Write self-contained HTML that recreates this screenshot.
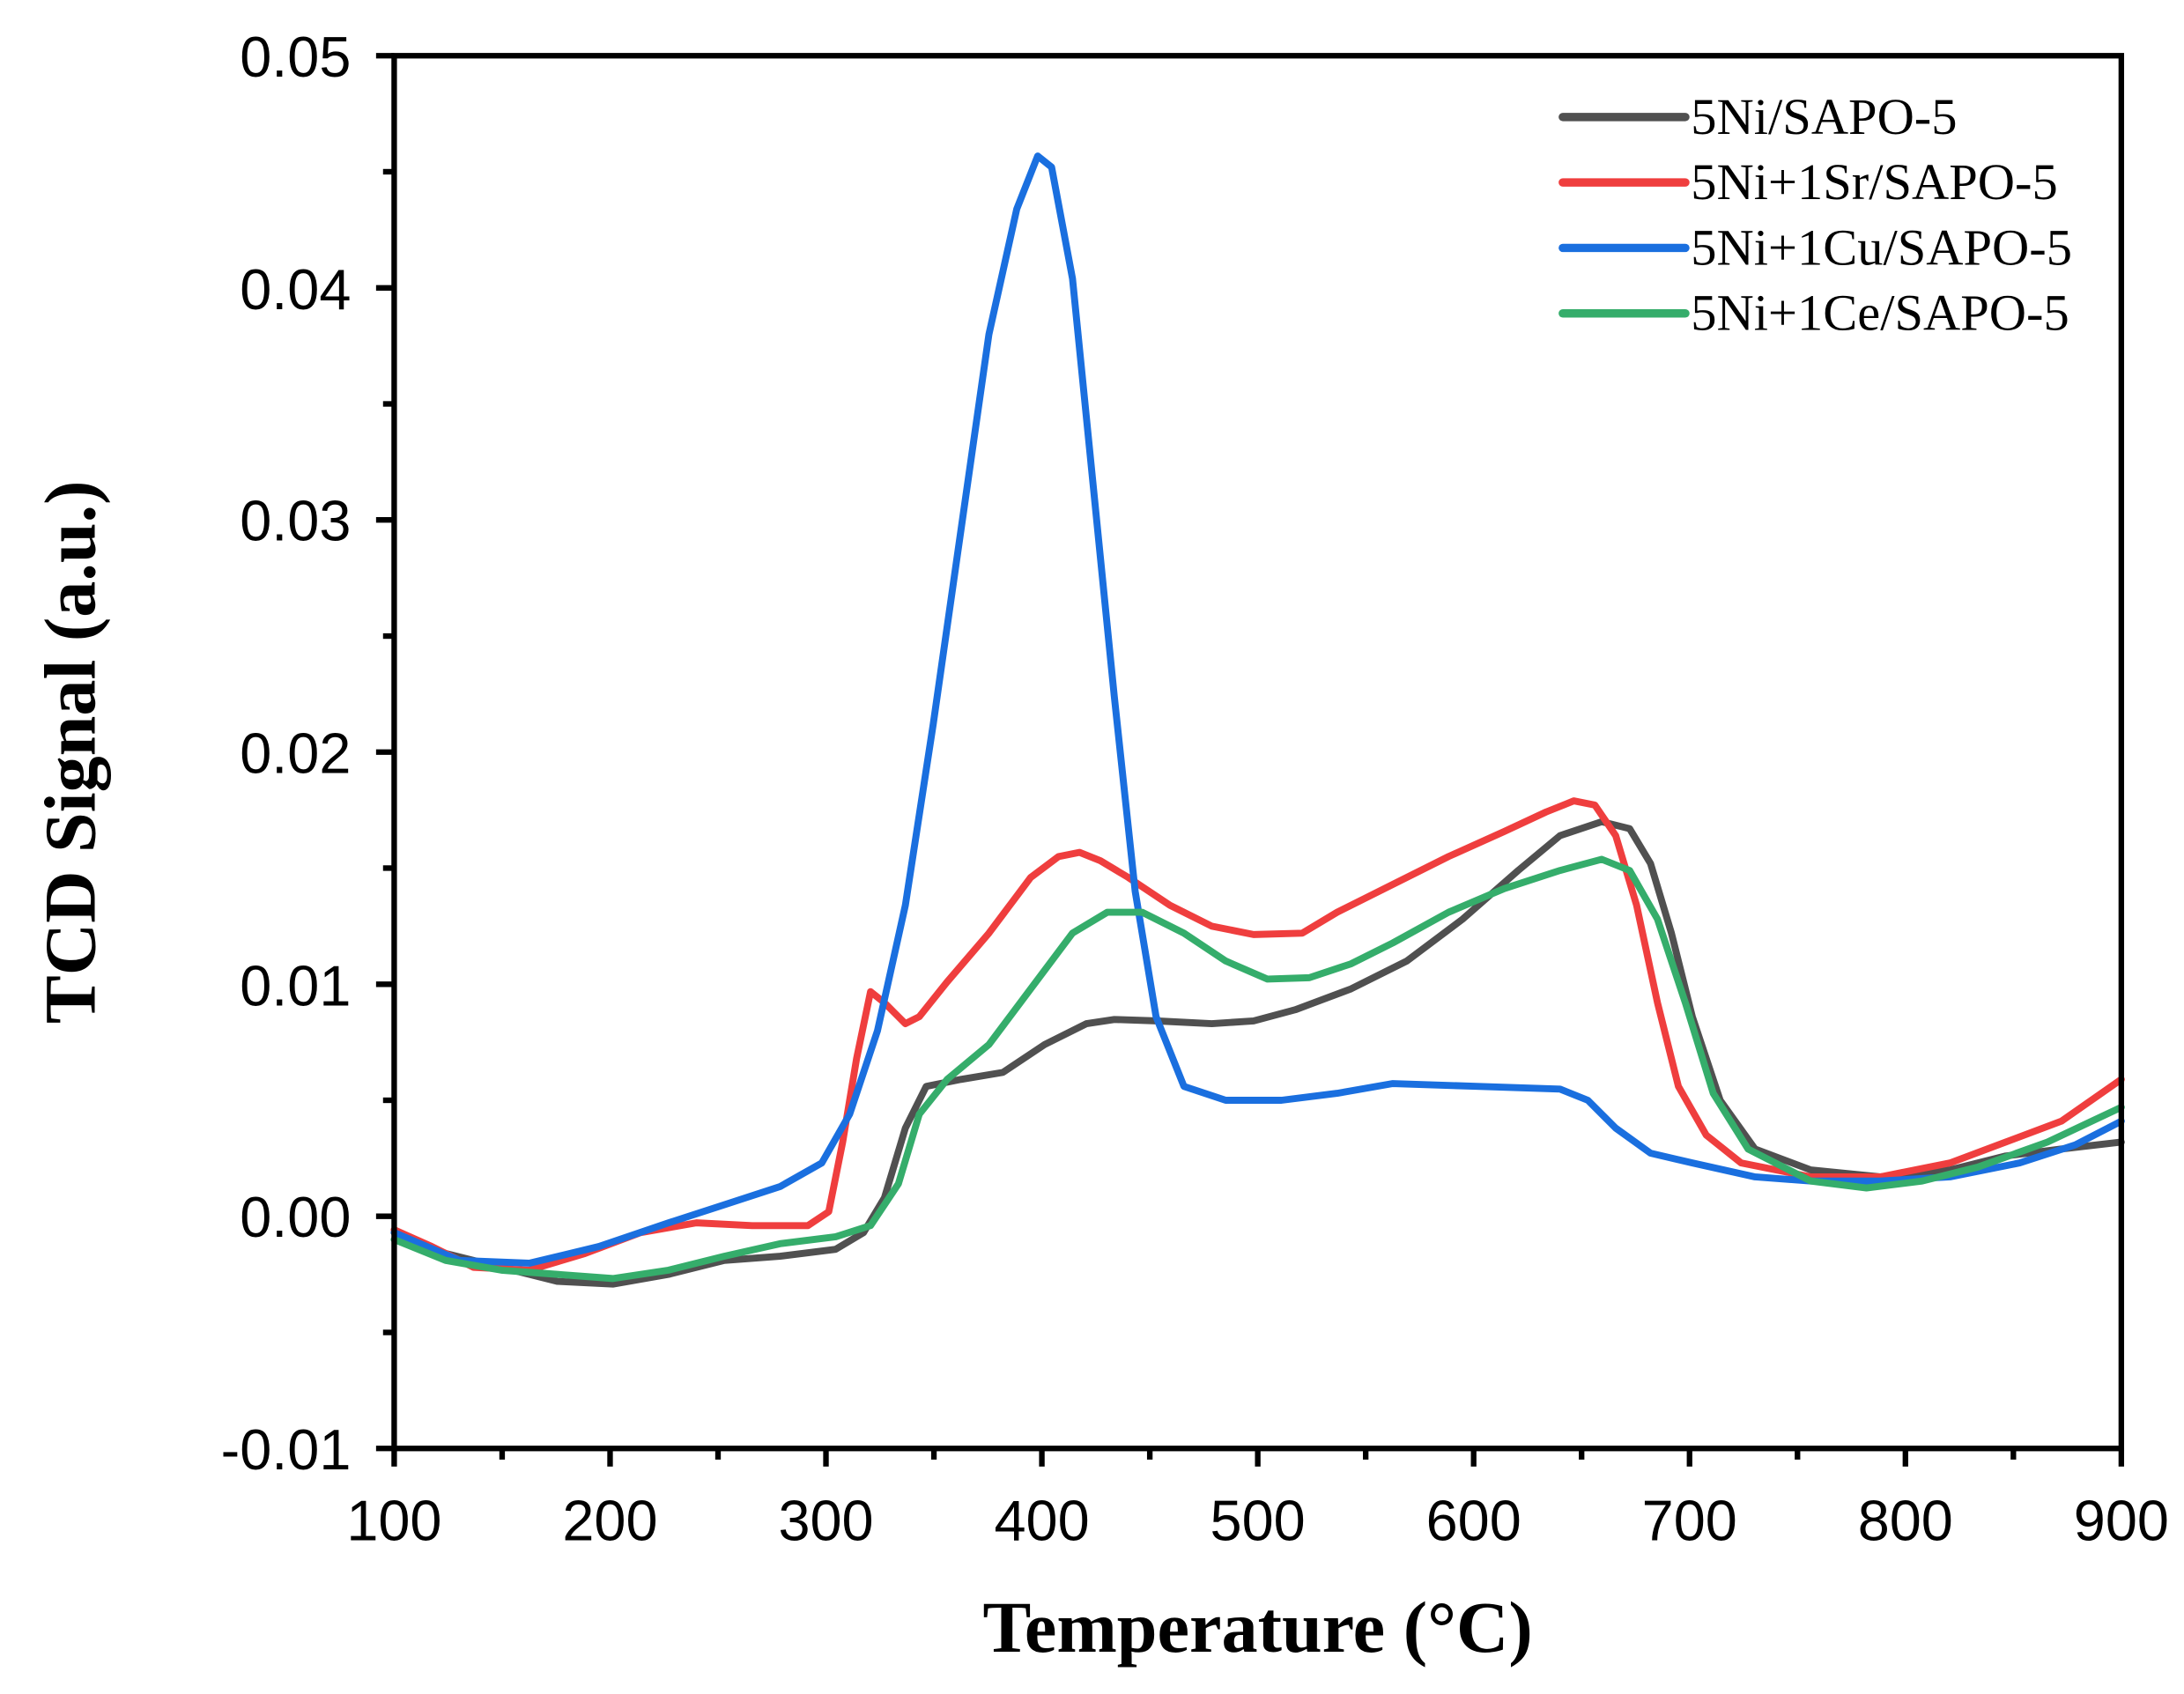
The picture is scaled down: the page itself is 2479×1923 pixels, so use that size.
<!DOCTYPE html>
<html><head><meta charset="utf-8"><style>html,body{margin:0;padding:0;background:#fff}svg{display:block}</style></head>
<body>
<svg width="2479" height="1923" viewBox="0 0 1568 1216.3" xmlns="http://www.w3.org/2000/svg">
<rect width="1568" height="1216.3" fill="#fff"/>
<g fill="none" stroke-width="5" stroke-linejoin="round" stroke-linecap="round">
<polyline stroke="#505050" points="283,885 320,900 360,910 400,920 440,922 480,915 520,905 560,902 600,897 620,885 635,860 650,810 665,780 690,775 720,770 750,750 780,735 800,732 830,733 870,735 900,733 930,725 970,710 1010,690 1050,660 1090,625 1120,600 1150,590 1170,595 1185,620 1200,670 1215,730 1235,790 1260,825 1300,840 1350,845 1400,840 1440,830 1480,825 1523,820"/>
<polyline stroke="#ef3e3e" points="283,883 310,895 340,910 380,912 420,900 460,885 500,878 540,880 580,880 595,870 605,820 615,760 625,712 635,720 650,735 660,730 680,705 710,670 740,630 760,615 775,612 790,618 810,630 840,650 870,665 900,671 935,670 960,655 1000,635 1040,615 1080,597 1110,583 1130,575 1145,578 1160,600 1175,650 1190,720 1205,780 1225,815 1250,835 1300,845 1350,845 1400,835 1440,820 1480,805 1523,775"/>
<polyline stroke="#1a6fdf" points="283,885 330,905 380,907 430,895 480,878 520,865 560,852 590,835 610,800 630,740 650,650 670,520 690,380 710,240 730,150 745,112 755,120 770,200 785,350 800,500 815,640 830,730 850,780 880,790 920,790 960,785 1000,778 1060,780 1120,782 1140,790 1160,810 1185,828 1215,835 1260,845 1300,848 1350,848 1400,845 1450,835 1490,822 1523,805"/>
<polyline stroke="#35ad6b" points="283,890 320,905 360,912 400,915 440,918 480,912 520,902 560,893 600,888 625,880 645,850 660,800 680,775 710,750 740,710 770,670 795,655 820,655 850,670 880,690 910,703 940,702 970,692 1000,677 1040,655 1080,638 1120,625 1150,617 1170,625 1190,660 1210,720 1230,785 1255,825 1300,848 1340,853 1380,848 1420,838 1470,820 1523,795"/>
</g>
<rect x="283" y="40" width="1240" height="1000" fill="none" stroke="#000" stroke-width="4"/>
<g stroke="#000" stroke-width="4">
<line x1="270" y1="40" x2="283" y2="40"/><line x1="270" y1="206.7" x2="283" y2="206.7"/><line x1="270" y1="373.3" x2="283" y2="373.3"/><line x1="270" y1="540" x2="283" y2="540"/><line x1="270" y1="706.7" x2="283" y2="706.7"/><line x1="270" y1="873.3" x2="283" y2="873.3"/><line x1="270" y1="1040" x2="283" y2="1040"/>
<line x1="275" y1="123.3" x2="283" y2="123.3"/><line x1="275" y1="290" x2="283" y2="290"/><line x1="275" y1="456.7" x2="283" y2="456.7"/><line x1="275" y1="623.3" x2="283" y2="623.3"/><line x1="275" y1="790" x2="283" y2="790"/><line x1="275" y1="956.7" x2="283" y2="956.7"/>
<line x1="283" y1="1040" x2="283" y2="1053"/><line x1="438" y1="1040" x2="438" y2="1053"/><line x1="593" y1="1040" x2="593" y2="1053"/><line x1="748" y1="1040" x2="748" y2="1053"/><line x1="903" y1="1040" x2="903" y2="1053"/><line x1="1058" y1="1040" x2="1058" y2="1053"/><line x1="1213" y1="1040" x2="1213" y2="1053"/><line x1="1368" y1="1040" x2="1368" y2="1053"/><line x1="1523" y1="1040" x2="1523" y2="1053"/>
<line x1="360.5" y1="1040" x2="360.5" y2="1048"/><line x1="515.5" y1="1040" x2="515.5" y2="1048"/><line x1="670.5" y1="1040" x2="670.5" y2="1048"/><line x1="825.5" y1="1040" x2="825.5" y2="1048"/><line x1="980.5" y1="1040" x2="980.5" y2="1048"/><line x1="1135.5" y1="1040" x2="1135.5" y2="1048"/><line x1="1290.5" y1="1040" x2="1290.5" y2="1048"/><line x1="1445.5" y1="1040" x2="1445.5" y2="1048"/>
</g>
<g font-family="Liberation Sans, sans-serif" font-size="41" fill="#000" text-anchor="end">
<text x="252" y="55">0.05</text><text x="252" y="222">0.04</text><text x="252" y="388">0.03</text><text x="252" y="555">0.02</text><text x="252" y="722">0.01</text><text x="252" y="888">0.00</text><text x="252" y="1055">-0.01</text>
</g>
<g font-family="Liberation Sans, sans-serif" font-size="41" fill="#000" text-anchor="middle">
<text x="283" y="1106">100</text><text x="438" y="1106">200</text><text x="593" y="1106">300</text><text x="748" y="1106">400</text><text x="903" y="1106">500</text><text x="1058" y="1106">600</text><text x="1213" y="1106">700</text><text x="1368" y="1106">800</text><text x="1523" y="1106">900</text>
</g>
<text x="903" y="1186" font-family="Liberation Serif, serif" font-weight="bold" font-size="52" text-anchor="middle">Temperature (°C)</text>
<text transform="translate(68,540) rotate(-90)" font-family="Liberation Serif, serif" font-weight="bold" font-size="52" text-anchor="middle">TCD Signal (a.u.)</text>
<g stroke-width="6" stroke-linecap="round">
<line x1="1122" y1="84" x2="1210" y2="84" stroke="#505050"/>
<line x1="1122" y1="131" x2="1210" y2="131" stroke="#ef3e3e"/>
<line x1="1122" y1="178" x2="1210" y2="178" stroke="#1a6fdf"/>
<line x1="1122" y1="225" x2="1210" y2="225" stroke="#35ad6b"/>
</g>
<g font-family="Liberation Serif, serif" font-size="37" fill="#000">
<text x="1214" y="96">5Ni/SAPO-5</text>
<text x="1214" y="143">5Ni+1Sr/SAPO-5</text>
<text x="1214" y="190">5Ni+1Cu/SAPO-5</text>
<text x="1214" y="237">5Ni+1Ce/SAPO-5</text>
</g>
</svg>
</body></html>
